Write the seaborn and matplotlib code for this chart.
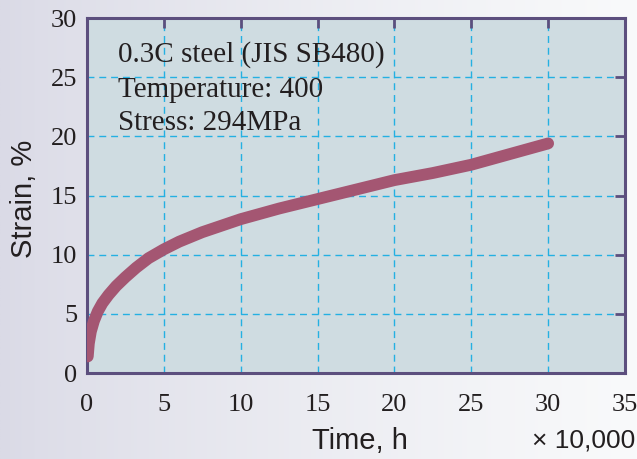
import numpy as np
import pandas as pd
import matplotlib
matplotlib.use("Agg")
import matplotlib.pyplot as plt
import seaborn as sns

# ---- data (time in units of 10,000 h, strain in %) ----
time_1e4h = [0.05, 0.12, 0.25, 0.45, 0.7, 1.0, 1.4, 1.9, 2.5, 3.2, 4.0, 5, 6, 7.5,
             10, 12.5, 15, 17.5, 20, 22.5, 25, 27.5, 30]
strain_pct = [1.4, 2.5, 3.5, 4.4, 5.2, 5.9, 6.6, 7.35, 8.1, 8.9, 9.7, 10.45, 11.1, 11.9,
              13.0, 13.9, 14.7, 15.5, 16.3, 16.9, 17.6, 18.5, 19.4]
x_ticks = [0, 5, 10, 15, 20, 25, 30, 35]
y_ticks = [0, 5, 10, 15, 20, 25, 30]
info_lines = ["0.3C steel (JIS SB480)", "Temperature: 400", "Stress: 294MPa"]

df = pd.DataFrame({"time": time_1e4h, "strain": strain_pct})

sns.set_theme(style="white")
plt.rcParams["font.family"] = ["Liberation Serif", "DejaVu Serif"]

spine_c = "#5c4f7e"
text_c = "#231f20"

fig = plt.figure(figsize=(6.37, 4.59), dpi=100)

# background gradient
bg = fig.add_axes([0, 0, 1, 1], zorder=-10)
gx = np.linspace(0, 1, 256)
left = np.array([218, 218, 230]) / 255
right = np.array([249, 250, 251]) / 255
w = gx[:, None] ** 0.8
grad = left[None, :] * (1 - w) + right[None, :] * w
img = np.repeat(grad[None, :, :], 4, axis=0)
bg.imshow(img, aspect="auto", extent=[0, 1, 0, 1])
bg.set_axis_off()

ax = fig.add_axes([87 / 637, 86 / 459, 538 / 637, 355 / 459])
ax.set_facecolor("#cfdce1")

sns.lineplot(data=df, x="time", y="strain", ax=ax, color="#a45672",
             linewidth=8.5, solid_capstyle="round", solid_joinstyle="round", zorder=5)

ax.set_xlim(0, 35)
ax.set_ylim(0, 30)
ax.set_xticks(x_ticks)
ax.set_yticks(y_ticks)
ax.grid(True, color="#24b0e2", linestyle=(0, (5, 3.5)), linewidth=1.0)
ax.set_axisbelow(True)

for s in ax.spines.values():
    s.set_color(spine_c)
    s.set_linewidth(2.2)
    s.set_visible(True)

ax.tick_params(axis="both", direction="in", length=7, width=2, color=spine_c,
               top=True, right=True, labelsize=19, labelcolor=text_c)
ax.tick_params(axis="x", pad=15)
ax.tick_params(axis="y", pad=7)

ax.set_xlabel("Time, h", fontsize=21, family="Liberation Sans", color=text_c)
ax.set_ylabel("Strain, %", fontsize=21, family="Liberation Sans", color=text_c)
ax.xaxis.set_label_coords(0.508, -0.152)
ax.yaxis.set_label_coords(-0.092, 0.49)

ys = [0.876, 0.778, 0.685]
for t, y in zip(info_lines, ys):
    ax.text(0.058, y, t, transform=ax.transAxes, fontsize=21, color=text_c,
            va="baseline", ha="left")

fig.text(0.997, 0.026, "× 10,000", fontsize=19, family="Liberation Sans",
         color=text_c, ha="right", va="baseline")

fig.savefig("out.png", dpi=100)
